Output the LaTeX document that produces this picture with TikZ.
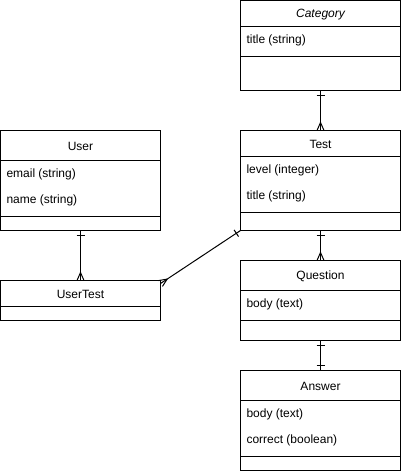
\documentclass[tikz,border=0pt]{standalone}
\usepackage{fontspec}
\setmainfont{Liberation Sans}
\usetikzlibrary{calc,decorations.markings}
\begin{document}
\begin{tikzpicture}[x=1pt,y=-1pt,line width=1pt,
  cls/.style={draw,rectangle,anchor=north west,inner sep=0pt,outer sep=0pt,minimum width=160pt},
  hdr/.style={inner sep=0pt,yshift=-1.2pt,font=\fontsize{12}{14}\selectfont},
  attr/.style={anchor=west,inner sep=0pt,yshift=-1.2pt,font=\fontsize{12}{14}\selectfont},
  onemany/.style={postaction={decorate},decoration={markings,
    mark=at position 5pt with {\draw[line width=1pt] (0pt,-4pt)--(0pt,4pt);},
    mark=at position 1 with {\draw[line width=1pt] (-8pt,0pt)--(0pt,3.5pt) (-8pt,0pt)--(0pt,-3.5pt);}}},
  oneone/.style={postaction={decorate},decoration={markings,
    mark=at position 5pt with {\draw[line width=1pt] (0pt,-4pt)--(0pt,4pt);},
    mark=at position -5pt with {\draw[line width=1pt] (0pt,-4pt)--(0pt,4pt);}}}]
\useasboundingbox (0,0) rectangle (401,471);

% Category
\node[cls,minimum height=90pt] (cat) at (240.5,0.5) {};
\draw ($(cat.north west)+(0,26)$) -- ++(160,0);
\draw ($(cat.north west)+(0,56)$) -- ++(160,0);
\node[hdr,font=\fontsize{12}{14}\selectfont\itshape] (catT) at ($(cat.north)+(0,13)$) {Category};
\node[attr] (catA1) at ($(cat.north west)+(5.5,39)$) {title (string)};

% Test
\node[cls,minimum height=100pt] (test) at (240.5,130.5) {};
\draw ($(test.north west)+(0,26)$) -- ++(160,0);
\draw ($(test.north west)+(0,82)$) -- ++(160,0);
\node[hdr] (testT) at ($(test.north)+(0,13)$) {Test};
\node[attr] (testA1) at ($(test.north west)+(5.5,39)$) {level (integer)};
\node[attr] (testA2) at ($(test.north west)+(5.5,65)$) {title (string)};

% User
\node[cls,minimum height=100pt] (user) at (0.5,130.5) {};
\draw ($(user.north west)+(0,30)$) -- ++(160,0);
\draw ($(user.north west)+(0,86)$) -- ++(160,0);
\node[hdr] (userT) at ($(user.north)+(0,15)$) {User};
\node[attr] (userA1) at ($(user.north west)+(5.5,43)$) {email (string)};
\node[attr] (userA2) at ($(user.north west)+(5.5,69)$) {name (string)};

% UserTest
\node[cls,minimum height=40pt] (ut) at (0.5,280.5) {};
\draw ($(ut.north west)+(0,26)$) -- ++(160,0);
\node[hdr] (utT) at ($(ut.north)+(0,13)$) {UserTest};

% Question
\node[cls,minimum height=80pt] (q) at (240.5,260.5) {};
\draw ($(q.north west)+(0,30)$) -- ++(160,0);
\draw ($(q.north west)+(0,60)$) -- ++(160,0);
\node[hdr] (qT) at ($(q.north)+(0,15)$) {Question};
\node[attr] (qA1) at ($(q.north west)+(5.5,43)$) {body (text)};

% Answer
\node[cls,minimum height=100pt] (ans) at (240.5,370.5) {};
\draw ($(ans.north west)+(0,30)$) -- ++(160,0);
\draw ($(ans.north west)+(0,86)$) -- ++(160,0);
\node[hdr] (ansT) at ($(ans.north)+(0,15)$) {Answer};
\node[attr] (ansA1) at ($(ans.north west)+(5.5,43)$) {body (text)};
\node[attr] (ansA2) at ($(ans.north west)+(5.5,69)$) {correct (boolean)};

% Connectors
\coordinate (utend) at ($(ut.north east)+(0,3)$);
\draw[onemany] (cat.south) -- (test.north);
\draw[onemany] (test.south) -- (q.north);
\draw[oneone] (q.south) -- (ans.north);
\draw[onemany] (user.south) -- (ut.north);
\draw[onemany] (test.south west) -- (utend);
\end{tikzpicture}
\end{document}
